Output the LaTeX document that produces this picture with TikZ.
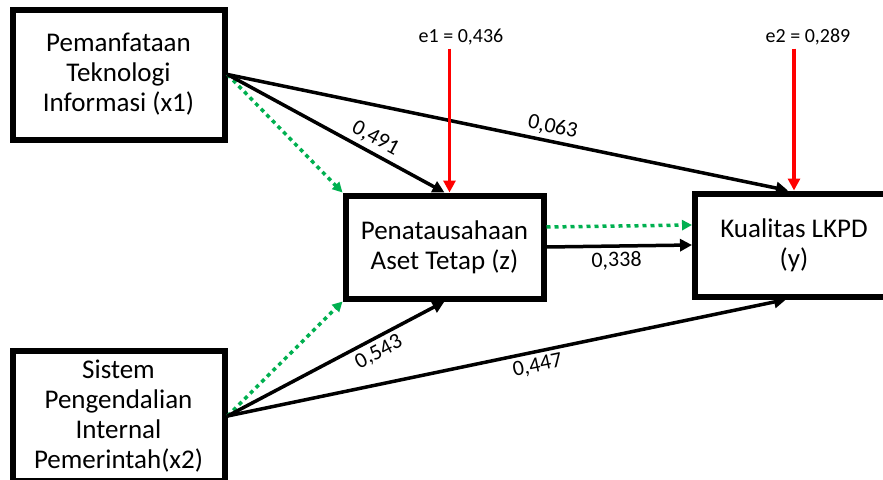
\documentclass[tikz,border=0pt]{standalone}
\usepackage{fontspec}
\setmainfont{Carlito}
\usetikzlibrary{arrows.meta}
\definecolor{hijau}{RGB}{0,176,80}
\tikzstyle{var}=[rectangle, draw, line width=6pt, minimum width=212pt, minimum height=130pt, align=center, font=\fontsize{27}{30}\selectfont]
\tikzstyle{jalur}=[line width=3.5pt, -{Triangle[length=12pt,width=12pt]}]
\tikzstyle{galat}=[jalur, red]
\tikzstyle{efek}=[line width=3.5pt, hijau, dash pattern=on 4pt off 4pt, -{Triangle[length=10pt,width=10pt]}]
\tikzstyle{koef}=[font=\fontsize{22}{26}\selectfont, sloped, inner sep=4pt]

\begin{document}
\begin{tikzpicture}[x=1pt, y=-1pt]
                \clip (0,0) rectangle (883,479);
                \node[var] (x1) at (118.5, 74.5) {Pemanfataan\\Teknologi\\Informasi (x1)};
                \node[var] (x2) at (118.5, 416) {Sistem\\Pengendalian\\Internal\\Pemerintah(x2)};
                \node[var, minimum width=198pt, minimum height=103pt] (z) at (444.5, 247) {Penatausahaan\\Aset Tetap (z)};
                \node[var, minimum width=198pt, minimum height=103pt] (y) at (794, 245) {Kualitas LKPD\\(y)};
                \node[font=\fontsize{20}{24}\selectfont] (e1) at (461, 37) {e1 = 0,436};
                \node[font=\fontsize{20}{24}\selectfont] (e2) at (808, 37) {e2 = 0,289};
                \coordinate (t1) at ([xshift=5pt]z.north);
                \coordinate (t2) at (y.north);
                \draw[efek] (x1.east) -- (z.north west);
                \draw[efek] (x2.east) -- (z.south west);
                \draw[efek] ([yshift=20pt]z.east) -- ([yshift=20pt]y.west);
                \draw[jalur] (x1.east) -- node[koef, above, pos=0.65] {0,491} (z.north);
                \draw[jalur] (x1.east) -- node[koef, above, pos=0.575] {0,063} ([xshift=-6pt]y.north);
                \draw[jalur] (x2.east) -- node[koef, below, pos=0.667] {0,543} (z.south);
                \draw[jalur] (x2.east) -- node[koef, below, pos=0.55] {0,447} ([xshift=-8pt]y.south);
                \draw[jalur] (z.east) -- node[koef, below, pos=0.48] {0,338} (y.west);
                \draw[galat] (t1 |- e1.south) -- (t1);
                \draw[galat] (t2 |- e2.south) -- (t2);
            \end{tikzpicture}
\end{document}
